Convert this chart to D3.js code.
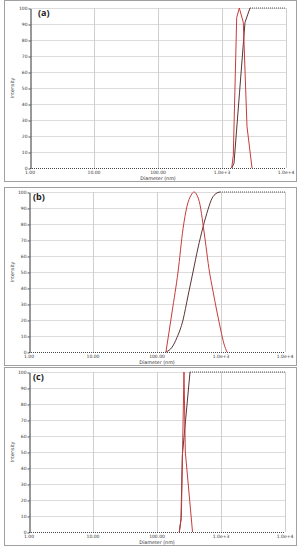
<!DOCTYPE html>
<html>
<head>
<meta charset="utf-8">
<script src="https://cdn.jsdelivr.net/npm/d3@7"></script>
<style>
  body { margin: 0; background: #fff; }
  text { font-family: 'DejaVu Sans', sans-serif; }
</style>
</head>
<body>
<div id="chart"></div>
<script>
// diameter (nm), intensity (%)
let distA = [[1418, 0], [1502, 8], [1697, 94], [1864, 100], [2152, 91], [2458, 26], [2943, 0]]
let cumA = [[1418, 0], [1540, 3], [1877, 47], [2288, 91], [2738, 100], [10000, 100]]

let distB = [[138, 0], [172, 25], [213, 50], [255, 77], [294, 91], [340, 98], [379, 100], [422, 98],
  [470, 92], [523, 80], [583, 66], [649, 52], [750, 38], [866, 25], [1000, 13], [1114, 5], [1241, 0]]
let cumB = [[138, 0], [172, 3], [205, 9], [255, 20], [305, 35], [365, 50], [437, 65], [523, 78],
  [626, 89], [723, 96], [835, 99], [965, 100], [10000, 100]]

let distC = [[223, 0], [240, 9], [264, 100], [277, 50], [359, 0]]
let cumC = [[223, 0], [237, 8], [249, 48], [328, 100], [10000, 100]]

let xTicks = [1, 10, 100, 1000, 10000]
let xTickLabels = ['1.00', '10.00', '100.00', '1.0e+3', '1.0e+4']
let yTicks = [0, 10, 20, 30, 40, 50, 60, 70, 80, 90, 100]
let panelLabels = ['(a)', '(b)', '(c)']

let width = 300
let height = 550

let svg = d3
  .select('#chart')
  .append('svg')
  .attr('width', width)
  .attr('height', height)

// frame top, plot left, plot top, smooth curve?
let layout = [
  { top: 0, left: 30, plotTop: 8, smooth: false, dist: distA, cum: cumA },
  { top: 187, left: 29, plotTop: 192, smooth: true, dist: distB, cum: cumB },
  { top: 367, left: 29, plotTop: 372, smooth: false, dist: distC, cum: cumC }
]

let red = '#c63c3c'
let dark = '#5a3434'

layout.forEach((p, i) => {
  let g = svg.append('g')
  let x = d3.scaleLog().domain([1, 10000]).range([p.left, p.left + 256])
  let y = d3.scaleLinear().domain([0, 100]).range([p.plotTop + 160, p.plotTop])
  let bottom = y(0)

  // frame
  g.append('rect')
    .attr('x', 4.5)
    .attr('y', p.top + 0.5)
    .attr('width', 292)
    .attr('height', bottom + 13 - p.top)
    .attr('fill', 'white')
    .attr('stroke', '#a0a0a0')
    .attr('stroke-width', 1)

  // horizontal grid
  g.selectAll('.hgrid')
    .data(yTicks.filter(v => v > 0))
    .enter()
    .append('line')
    .attr('x1', x(1))
    .attr('x2', x(10000))
    .attr('y1', d => y(d) + 0.5)
    .attr('y2', d => y(d) + 0.5)
    .attr('stroke', '#dcdcdc')
    .attr('stroke-width', 1)

  // vertical grid at decades
  g.selectAll('.vgrid')
    .data(xTicks.slice(1))
    .enter()
    .append('line')
    .attr('x1', d => x(d) + 0.5)
    .attr('x2', d => x(d) + 0.5)
    .attr('y1', y(100))
    .attr('y2', y(0))
    .attr('stroke', '#cfcfcf')
    .attr('stroke-width', 1)

  // y axis
  let yAxis = g.append('g')
    .attr('transform', `translate(${x(1) + 0.5},0.5)`)
    .call(d3.axisLeft(y).tickValues(yTicks).tickSize(2).tickPadding(1).tickSizeOuter(0))
  yAxis.select('.domain').attr('stroke', '#333')
  yAxis.selectAll('line').attr('stroke', '#555')
  yAxis.selectAll('text').attr('font-size', 4.5).attr('fill', '#333')

  // x axis dotted baseline
  g.append('line')
    .attr('x1', x(1))
    .attr('x2', x(10000))
    .attr('y1', bottom + 0.5)
    .attr('y2', bottom + 0.5)
    .attr('stroke', '#444')
    .attr('stroke-width', 1)
    .attr('stroke-dasharray', '1,1')

  g.selectAll('.xlabel')
    .data(xTicks)
    .enter()
    .append('text')
    .attr('x', d => x(d))
    .attr('y', bottom + 6)
    .attr('text-anchor', 'middle')
    .attr('font-size', 4.5)
    .attr('fill', '#333')
    .text((d, j) => xTickLabels[j])

  g.append('text')
    .attr('x', x(100))
    .attr('y', bottom + 11.5)
    .attr('text-anchor', 'middle')
    .attr('font-size', 4.8)
    .attr('fill', '#333')
    .text('Diameter (nm)')

  g.append('text')
    .attr('transform', `translate(13.5,${(y(0) + y(100)) / 2}) rotate(-90)`)
    .attr('text-anchor', 'middle')
    .attr('font-size', 4.8)
    .attr('fill', '#333')
    .text('Intensity')

  g.append('text')
    .attr('x', p.left + (i === 0 ? 8 : 4))
    .attr('y', p.plotTop + 8)
    .attr('font-size', 9)
    .attr('font-weight', 'bold')
    .attr('fill', '#222')
    .style('font-family', "'Open Sans', sans-serif")
    .text(panelLabels[i])

  let line = d3.line()
    .x(d => x(d[0]))
    .y(d => y(d[1]))
    .curve(p.smooth ? d3.curveMonotoneX : d3.curveLinear)

  // cumulative: rising part solid, plateau dotted
  let firstTop = p.cum.findIndex(d => d[1] >= 100)
  g.append('path')
    .datum(p.cum.slice(0, firstTop + 1))
    .attr('d', line)
    .attr('fill', 'none')
    .attr('stroke', dark)
    .attr('stroke-width', 1)

  g.append('path')
    .datum(p.cum.slice(firstTop))
    .attr('d', line)
    .attr('fill', 'none')
    .attr('stroke', '#555')
    .attr('stroke-width', 1)
    .attr('stroke-dasharray', '1,1')

  // distribution
  g.append('path')
    .datum(p.dist)
    .attr('d', line)
    .attr('fill', 'none')
    .attr('stroke', red)
    .attr('stroke-width', 1)
})
</script>
</body>
</html>
